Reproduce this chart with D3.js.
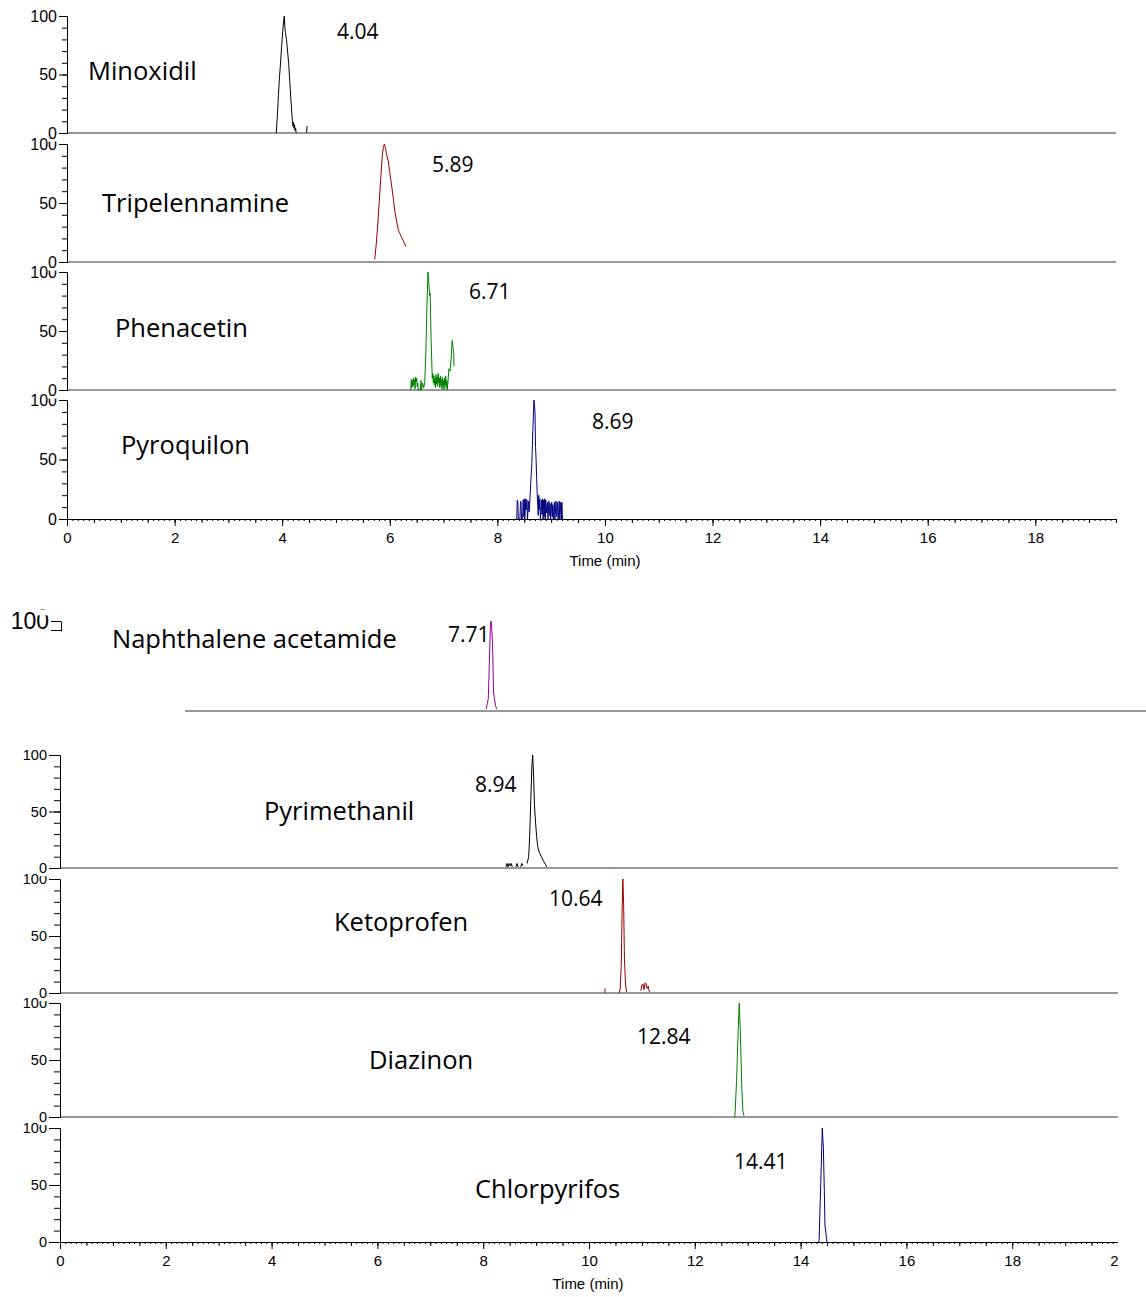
<!DOCTYPE html>
<html><head><meta charset="utf-8">
<script src="https://cdn.jsdelivr.net/npm/d3@7"></script>
<style>
body{margin:0;background:#fff;}
svg{display:block;}
</style></head><body>
<svg id="c" width="1146" height="1297"></svg>
<script>
// ================= DATA =================
const minoxidil = [[3.89,0],[3.91,14],[3.93,32],[3.95,48],[3.97,60],[3.99,74],[4.01,87],[4.03,97],[4.04,100],[4.05,90],[4.06,86],[4.08,80],[4.10,70],[4.12,60],[4.14,45],[4.16,30],[4.18,16],[4.19,11],[4.20,6],[4.21,9],[4.22,4],[4.23,7],[4.24,2],[4.25,4],[4.26,0],[4.27,null],[4.455,0],[4.46,5],[4.465,6]];
const tripelennamine = [[5.72,2],[5.75,16],[5.78,34],[5.81,55],[5.84,76],[5.86,90],[5.88,97],[5.90,100],[5.92,97],[5.94,91],[5.97,86],[6.00,76],[6.04,63],[6.07,52],[6.10,41],[6.13,34],[6.16,27],[6.19,24],[6.22,21],[6.26,17],[6.30,13]];
const phenacetin = [[6.39,0],[6.40,9],[6.41,2],[6.42,8],[6.43,3],[6.44,10],[6.45,4],[6.46,9],[6.47,1],[6.48,11],[6.49,7],[6.50,10],[6.51,3],[6.52,6],[6.53,0],[6.57,0],[6.58,8],[6.59,0],[6.61,6],[6.63,2],[6.65,6],[6.67,30],[6.69,70],[6.71,100],[6.73,88],[6.74,80],[6.75,82],[6.77,40],[6.79,10],[6.80,14],[6.81,6],[6.82,12],[6.83,4],[6.84,10],[6.85,2],[6.86,13],[6.87,5],[6.88,11],[6.89,3],[6.90,14],[6.91,6],[6.92,10],[6.93,2],[6.94,12],[6.95,4],[6.96,9],[6.97,1],[6.98,11],[6.99,3],[7.00,8],[7.01,0],[7.02,10],[7.03,4],[7.04,12],[7.05,2],[7.06,8],[7.07,0],[7.08,6],[7.10,18],[7.12,16],[7.14,26],[7.16,42],[7.17,38],[7.18,34],[7.19,30],[7.195,20]];
const pyroquilon = [[8.36,0],[8.37,16],[8.38,15],[8.39,0],[8.42,0],[8.43,15],[8.44,14],[8.45,0],[8.47,0],[8.48,16],[8.49,2],[8.50,17],[8.51,0],[8.53,17],[8.54,8],[8.55,16],[8.56,0],[8.58,15],[8.59,6],[8.60,12],[8.62,30],[8.64,45],[8.66,75],[8.68,100],[8.70,90],[8.71,60],[8.72,50],[8.73,35],[8.74,22],[8.76,3],[8.77,20],[8.78,8],[8.79,17],[8.80,0],[8.82,16],[8.83,4],[8.84,17],[8.85,0],[8.86,16],[8.87,2],[8.88,17],[8.89,0],[8.90,16],[8.91,5],[8.93,14],[8.94,0],[8.96,15],[8.97,3],[8.98,13],[8.99,0],[9.01,14],[9.02,2],[9.03,12],[9.04,0],[9.06,14],[9.07,0],[9.09,15],[9.10,2],[9.12,14],[9.13,0],[9.15,15],[9.16,0],[9.18,14],[9.19,0],[9.20,14],[9.21,0]];
const naphthaleneAcetamide = [[7.62,2],[7.64,8],[7.66,14],[7.68,55],[7.70,95],[7.71,100],[7.72,97],[7.74,75],[7.76,20],[7.78,12],[7.80,5],[7.82,2]];
const pyrimethanil = [[8.43,1],[8.45,4],[8.47,1],[8.49,4],[8.51,2],[8.53,4],[8.55,1],[8.56,null],[8.62,1],[8.64,4],[8.66,1],[8.67,null],[8.71,1],[8.73,4],[8.75,2],[8.76,null],[8.83,4],[8.86,10],[8.88,30],[8.90,60],[8.92,90],[8.935,100],[8.95,85],[8.97,55],[8.99,40],[9.01,28],[9.03,19],[9.06,14],[9.10,10],[9.14,6],[9.18,3],[9.20,1]];
const ketoprofen = [[10.30,0],[10.305,4],[10.31,null],[10.57,0],[10.59,4],[10.61,25],[10.625,70],[10.64,100],[10.655,78],[10.67,30],[10.69,8],[10.71,1],[10.72,null],[10.98,2],[11.00,7],[11.02,8],[11.04,3],[11.06,9],[11.08,8],[11.10,4],[11.12,6],[11.14,1]];
const diazinon = [[12.75,0],[12.76,2],[12.79,32],[12.82,76],[12.84,100],[12.86,76],[12.89,24],[12.91,5],[12.93,1]];
const chlorpyrifos = [[14.34,0],[14.35,2],[14.38,49],[14.41,100],[14.43,83],[14.45,42],[14.46,15],[14.49,3],[14.50,0]];

const topNames = ["Minoxidil","Tripelennamine","Phenacetin","Pyroquilon"];
const topRT = ["4.04","5.89","6.71","8.69"];
const botNames = ["Pyrimethanil","Ketoprofen","Diazinon","Chlorpyrifos"];
const botRT = ["8.94","10.64","12.84","14.41"];
const fragName = "Naphthalene acetamide";
const fragRT = "7.71";
const yMajorTicks = [0,50,100];
const xTicksTop = [0,2,4,6,8,10,12,14,16,18];
const xTicksBottom = [0,2,4,6,8,10,12,14,16,18,20];
const xAxisTitle = "Time (min)";

// ================= LAYOUT / STYLE =================
const AXF = "'Liberation Sans', Arial, sans-serif";
const LBF = "'Open Sans', 'Noto Sans', sans-serif";
const NAME_FS = 25.5, RT_FS = 21;
const colors = ["#000000","#990000","#008000","#000080"];
const fragColor = "#990099";

const topCfg = {
  x0:67, x1:1116, tmax:19.5,
  tops:[16,144,272,400], bottoms:[133,262,390,519],
  series:[minoxidil,tripelennamine,phenacetin,pyroquilon],
  names:topNames, rts:topRT,
  namePos:[[88,80],[102,212],[115,337],[121,454]],
  rtPos:[[337,39],[432,172],[469,299],[592,429]],
  xTicks:xTicksTop, titlePos:[605,566], yMajor:8, yMinor:5, yFont:16
};
const botCfg = {
  x0:60, x1:1118, tmax:20,
  tops:[755,879,1003,1128], bottoms:[868,993,1117,1242],
  series:[pyrimethanil,ketoprofen,diazinon,chlorpyrifos],
  names:botNames, rts:botRT,
  namePos:[[264,820],[334,931],[369,1069],[475,1198]],
  rtPos:[[475,792],[549,906],[637,1044],[734,1169]],
  xTicks:xTicksBottom, titlePos:[588,1289], yMajor:11, yMinor:6, yFont:14.5
};

const svg = d3.select("#c");
const defs = svg.append("defs");
defs.append("clipPath").attr("id","axclip").append("rect").attr("x",0).attr("y",0).attr("width",1118).attr("height",1297);
defs.append("clipPath").attr("id","fragclip").append("rect").attr("x",0).attr("y",609.5).attr("width",185).attr("height",22);

function styleAxis(sel, fs) {
  sel.select(".domain").attr("stroke","#000").attr("stroke-width",1);
  sel.selectAll(".tick line").attr("stroke","#000").attr("stroke-width",1);
  sel.selectAll("text").attr("font-family",AXF).attr("font-size",fs).attr("fill","#000");
}

function whiteBehindZero(major) {
  major.selectAll(".tick").filter(d => d === 0).each(function() {
    const t = d3.select(this).select("text");
    const bb = t.node().getBBox();
    d3.select(this).insert("rect","text").attr("x",bb.x-0.5).attr("y",bb.y).attr("width",bb.width+1).attr("height",bb.height).attr("fill","#fff");
  });
}

function yAxes(g, y, xPos, cfg) {
  const minor = g.append("g").attr("transform",`translate(${xPos},0)`)
    .call(d3.axisLeft(y).tickValues(d3.range(0,101,10)).tickSize(cfg.yMinor).tickSizeOuter(0).tickFormat(""));
  styleAxis(minor, cfg.yFont);
  const major = g.append("g").attr("transform",`translate(${xPos},0)`)
    .call(d3.axisLeft(y).tickValues(yMajorTicks).tickSize(cfg.yMajor).tickSizeOuter(0).tickPadding(2));
  styleAxis(major, cfg.yFont);
  whiteBehindZero(major);
  return major;
}

function drawGroup(cfg) {
  const x = d3.scaleLinear().domain([0,cfg.tmax]).range([cfg.x0,cfg.x1]);
  const n = cfg.series.length;
  for (let i = n-1; i >= 0; i--) {
    const y = d3.scaleLinear().domain([0,100]).range([cfg.bottoms[i],cfg.tops[i]]);
    const g = svg.append("g");
    if (i < n-1) {
      g.append("line").attr("x1",cfg.x0).attr("x2",cfg.x1)
        .attr("y1",cfg.bottoms[i]).attr("y2",cfg.bottoms[i])
        .attr("stroke","#333").attr("stroke-width",1.2);
    } else {
      const ax = g.append("g").attr("clip-path","url(#axclip)");
      const mk = (vals,len,fmt) => {
        const a = ax.append("g").attr("transform",`translate(0,${cfg.bottoms[i]})`)
          .call(d3.axisBottom(x).tickValues(vals).tickSize(len).tickSizeOuter(0).tickPadding(6).tickFormat(fmt));
        styleAxis(a, 15);
        return a;
      };
      mk(d3.range(0,cfg.tmax+0.001,0.1).map(v=>+v.toFixed(1)),2,"");
      mk(d3.range(0,cfg.tmax+0.001,0.5),4,"");
      mk(cfg.xTicks,7,d3.format("d"));
      g.append("text").attr("x",cfg.titlePos[0]).attr("y",cfg.titlePos[1])
        .attr("text-anchor","middle").attr("font-family",AXF).attr("font-size",15).text(xAxisTitle);
    }
    yAxes(g, y, cfg.x0, cfg);
    const line = d3.line().defined(d => d[1] !== null).x(d => x(d[0])).y(d => y(d[1]));
    g.append("path").datum(cfg.series[i]).attr("d",line)
      .attr("fill","none").attr("stroke",colors[i]).attr("stroke-width",1).attr("stroke-linejoin","round");
    g.append("text").attr("x",cfg.namePos[i][0]).attr("y",cfg.namePos[i][1])
      .attr("font-family",LBF).attr("font-size",NAME_FS).attr("fill","#000").text(cfg.names[i]);
    g.append("text").attr("x",cfg.rtPos[i][0]).attr("y",cfg.rtPos[i][1])
      .attr("font-family",LBF).attr("font-size",RT_FS).attr("fill","#000").text(cfg.rts[i]);
  }
}

drawGroup(topCfg);
drawGroup(botCfg);

// ---- fragment (Naphthalene acetamide) ----
(function(){
  const fx = d3.scaleLinear().domain([0,20]).range([83.1,1141.1]);
  const fy = d3.scaleLinear().domain([0,100]).range([711,621]);
  const g = svg.append("g");
  const fa = g.append("g").attr("clip-path","url(#fragclip)");
  const ya = fa.append("g").attr("transform","translate(61,0)")
    .call(d3.axisLeft(fy).tickValues([100,90,80]).tickSize(10).tickSizeOuter(0).tickPadding(2).tickFormat(d => d===100 ? "100" : ""));
  styleAxis(ya,23);
  // remnant of the label above, with its opaque box
  const up = fa.append("g").attr("transform","translate(49,603)");
  const ut = up.append("text").attr("dy","0.32em").attr("text-anchor","end")
    .attr("font-family",AXF).attr("font-size",23).text("0");
  const bb = ut.node().getBBox();
  up.insert("rect","text").attr("x",bb.x-0.5).attr("y",bb.y).attr("width",bb.width+1).attr("height",bb.height).attr("fill","#fff");
  g.append("line").attr("x1",185).attr("x2",1146).attr("y1",711).attr("y2",711).attr("stroke","#333").attr("stroke-width",1.2);
  g.append("path").datum(naphthaleneAcetamide)
    .attr("d", d3.line().x(d=>fx(d[0])).y(d=>fy(d[1])))
    .attr("fill","none").attr("stroke",fragColor).attr("stroke-width",1);
  g.append("text").attr("x",112).attr("y",648).attr("font-family",LBF).attr("font-size",NAME_FS).text(fragName);
  g.append("text").attr("x",448).attr("y",642).attr("font-family",LBF).attr("font-size",RT_FS).text(fragRT);
})();
</script>
</body></html>
